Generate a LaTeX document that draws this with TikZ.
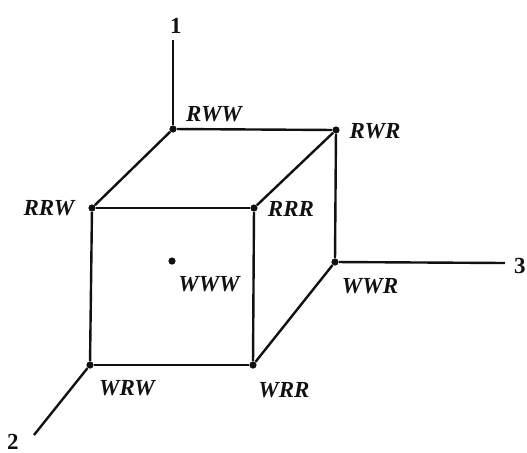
\documentclass[tikz,border=0pt]{standalone}
\usepackage{fontspec}
\setmainfont{Liberation Serif}
\usepackage{tikz}
\usetikzlibrary{positioning}
\definecolor{cubeink}{HTML}{111111}
\tikzset{
  vertex/.style = {circle, fill=cubeink, inner sep=0pt, minimum size=3.6pt},
  state/.style  = {font=\fontsize{11.5pt}{12pt}\selectfont\bfseries\itshape, text=cubeink, inner sep=0pt},
  axislbl/.style = {font=\fontsize{11.5pt}{12pt}\selectfont\bfseries, text=cubeink, inner sep=0pt},
  edge/.style   = {draw=cubeink, line width=1.2pt},
}
\begin{document}
\begin{tikzpicture}[x=0.5pt, y=-0.5pt]
\useasboundingbox (0,0) rectangle (527,452);
% corners of the cube
\node[vertex] (RWW) at (173,129) {};
\node[vertex] (RWR) at (336,130) {};
\node[vertex] (RRW) at (92,208) {};
\node[vertex] (RRR) at (254,208) {};
\node[vertex] (WWW) at (172,261) {};
\node[vertex] (WWR) at (335,262) {};
\node[vertex] (WRW) at (90,365) {};
\node[vertex] (WRR) at (253,365) {};
% free ends of the axes
\coordinate (end1) at (173,40);
\coordinate (end2) at (34,435);
\coordinate (end3) at (505,263);
% labels
\node[state] (lRWW) at (214,114) {RWW};
\node[state] (lRWR) at (375,131) {RWR};
\node[state] (lRRW) at (49,208) {RRW};
\node[state] (lRRR) at (291,209) {RRR};
\node[state] (lWWW) at (209,284) {WWW};
\node[state] (lWWR) at (370,286) {WWR};
\node[state] (lWRW) at (127,388) {WRW};
\node[state] (lWRR) at (284,390) {WRR};
\node[axislbl] (ax1) at (176,26) {1};
\node[axislbl] (ax2) at (13,442) {2};
\node[axislbl] (ax3) at (520,266) {3};
% edges
\draw[edge] (RWW) -- (RWR);
\draw[edge] (RWW) -- (RRW);
\draw[edge] (RWR) -- (RRR);
\draw[edge] (RRW) -- (RRR);
\draw[edge] (RRW) -- (WRW);
\draw[edge] (RRR) -- (WRR);
\draw[edge] (WRW) -- (WRR);
\draw[edge] (WRR) -- (WWR);
\draw[edge] (WWR) -- (RWR);
% axes
\draw[edge] (RWW) -- (end1);
\draw[edge] (WRW) -- (end2);
\draw[edge] (WWR) -- (end3);
\end{tikzpicture}
\end{document}
